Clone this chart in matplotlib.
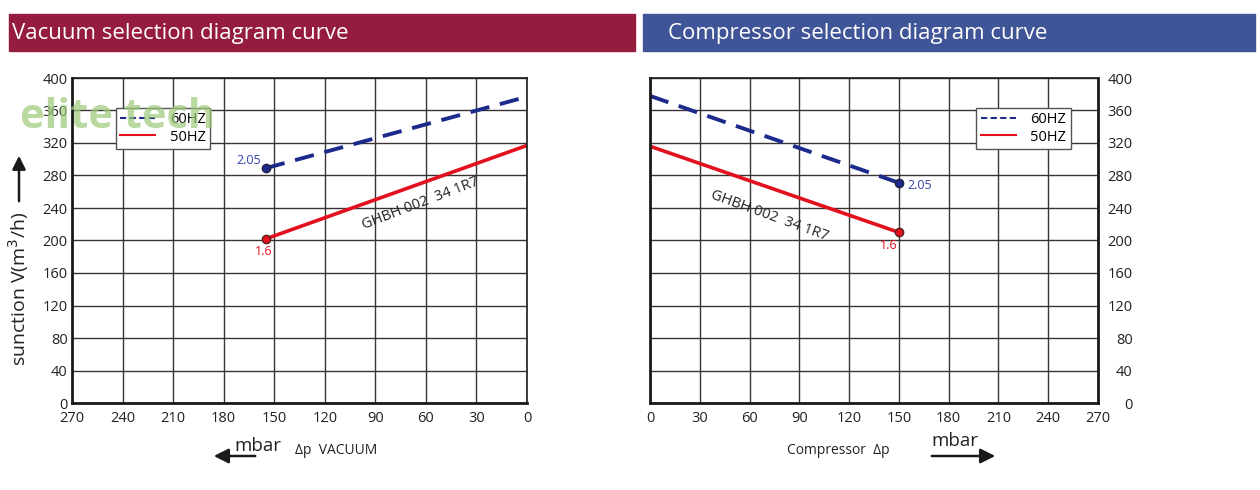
import matplotlib.pyplot as plt
from matplotlib.lines import Line2D
from matplotlib.patches import FancyArrowPatch

plt.rcParams['font.family'] = ['Open Sans', 'DejaVu Sans']

# data
x_ticks = [0, 30, 60, 90, 120, 150, 180, 210, 240, 270]
y_ticks = [0, 40, 80, 120, 160, 200, 240, 280, 320, 360, 400]

vac_dp = [155, 0]
vac_60hz = [289, 377]
vac_50hz = [202, 317]

comp_dp = [0, 150]
comp_60hz = [378, 271]
comp_50hz = [316, 210]

model = 'GHBH 002  34 1R7'

blue = '#1c2a8c'
red = '#e3101e'
grid_c = '#3b3333'

fig = plt.figure(figsize=(12.6, 4.9), dpi=100)

# header bars
fig.patches.append(plt.Rectangle((9/1260, 1-51/490), 626/1260, 37/490,
                                 transform=fig.transFigure, color='#951b3f'))
fig.patches.append(plt.Rectangle((643/1260, 1-51/490), 612/1260, 37/490,
                                 transform=fig.transFigure, color='#3f5597'))
fig.text(12/1260, 1-34/490, 'Vacuum selection diagram curve', color='white',
         fontsize=16, va='center', ha='left')
fig.text(668/1260, 1-34/490, 'Compressor selection diagram curve', color='white',
         fontsize=16, va='center', ha='left')

# watermark (behind the axes)
fig.text(118/1260, 1-118/490, 'elite tech', fontsize=30, fontweight='bold',
         color='#9cc97a', alpha=0.7, ha='center', va='center', zorder=0)

ax1 = fig.add_axes([72/1260, 1-403/490, 455/1260, 325/490])
ax2 = fig.add_axes([650/1260, 1-403/490, 448/1260, 325/490])


def style(ax):
    ax.set_xlim(0, 270)
    ax.set_ylim(0, 400)
    ax.set_xticks(x_ticks)
    ax.set_yticks(y_ticks)
    ax.grid(True, color=grid_c, lw=1)
    ax.tick_params(length=0, labelsize=10.5, colors='#222222')
    ax.tick_params(axis='x', pad=6)
    ax.patch.set_alpha(0)
    for s in ax.spines.values():
        s.set_color('#1a1a1a')
        s.set_linewidth(1.2)
    ax.spines['bottom'].set_linewidth(2)
    ax.spines['left'].set_linewidth(2)


# thin legend handles like the original
handles = [Line2D([], [], color=blue, lw=1.5, ls=(0, (3, 1.6))),
           Line2D([], [], color=red, lw=1.5)]
labels = ['60HZ', '50HZ']
leg_kw = dict(fontsize=10.5, fancybox=False, edgecolor='#555555', framealpha=1,
              handlelength=2.4, handletextpad=1.0, borderpad=0.3,
              labelspacing=0.15)

# vacuum side
style(ax1)
ax1.invert_xaxis()
ax1.tick_params(axis='y', pad=3)
ax1.plot(vac_dp, vac_60hz, color=blue, lw=2.8, ls=(0, (5, 2.8)))
ax1.plot(vac_dp, vac_50hz, color=red, lw=2.6)
ax1.plot(vac_dp[0], vac_60hz[0], 'o', color=blue, mec='#222244', ms=6)
ax1.plot(vac_dp[0], vac_50hz[0], 'o', color=red, mec='#552222', ms=6)
ax1.text(vac_dp[0] + 3, vac_60hz[0] + 2, '2.05', color='#3340b0', fontsize=9,
         ha='right', va='bottom')
ax1.text(vac_dp[0] + 1, vac_50hz[0] - 8, '1.6', color=red, fontsize=9,
         ha='center', va='top')
ax1.text(63, 245, model, fontsize=10.5, rotation=21, ha='center', va='center',
         color='#222222')
ax1.legend(handles, labels, loc='upper left', bbox_to_anchor=(0.08, 0.93), **leg_kw)

# compressor side
style(ax2)
ax2.yaxis.tick_right()
ax2.tick_params(axis='y', pad=25)
for t in ax2.get_yticklabels():
    t.set_ha('right')
ax2.spines['right'].set_linewidth(2)
ax2.plot(comp_dp, comp_60hz, color=blue, lw=2.8, ls=(0, (5, 2.8)))
ax2.plot(comp_dp, comp_50hz, color=red, lw=2.6)
ax2.plot(comp_dp[1], comp_60hz[1], 'o', color=blue, mec='#222244', ms=6)
ax2.plot(comp_dp[1], comp_50hz[1], 'o', color=red, mec='#552222', ms=6)
ax2.text(comp_dp[1] + 5, comp_60hz[1] - 3, '2.05', color='#3340b0', fontsize=9,
         ha='left', va='center')
ax2.text(comp_dp[1] - 6, comp_50hz[1] - 8, '1.6', color=red, fontsize=9,
         ha='center', va='top')
ax2.text(72, 230, model, fontsize=10.5, rotation=-20, ha='center', va='center',
         color='#222222')
ax2.legend(handles, labels, loc='upper right', bbox_to_anchor=(0.955, 0.93), **leg_kw)

# y label with arrow
fig.text(19/1260, 1-289/490, 'sunction V(m$^3$/h)', rotation=90, fontsize=14,
         ha='center', va='center', color='#222222')
fig.add_artist(FancyArrowPatch(
    (19/1260, 1-204/490), (19/1260, 1-153/490), transform=fig.transFigure,
    arrowstyle='-|>', mutation_scale=20, color='#1a1a1a', lw=1.8))

# bottom axis captions
fig.text(234/1260, 1-446/490, 'mbar', fontsize=13.5, ha='left', va='center', color='#222222')
fig.text(295/1260, 1-450/490, '\u0394p  VACUUM', fontsize=10, ha='left', va='center',
         color='#222222')
fig.add_artist(FancyArrowPatch(
    (258/1260, 1-456/490), (211/1260, 1-456/490), transform=fig.transFigure,
    arrowstyle='-|>', mutation_scale=22, color='#1a1a1a', lw=1.8))
fig.text(787/1260, 1-450/490, 'Compressor  \u0394p', fontsize=10, ha='left',
         va='center', color='#222222')
fig.text(931/1260, 1-441/490, 'mbar', fontsize=13.5, ha='left', va='center', color='#222222')
fig.add_artist(FancyArrowPatch(
    (929/1260, 1-456/490), (998/1260, 1-456/490), transform=fig.transFigure,
    arrowstyle='-|>', mutation_scale=22, color='#1a1a1a', lw=1.8))

fig.savefig('out.png', dpi=100)
